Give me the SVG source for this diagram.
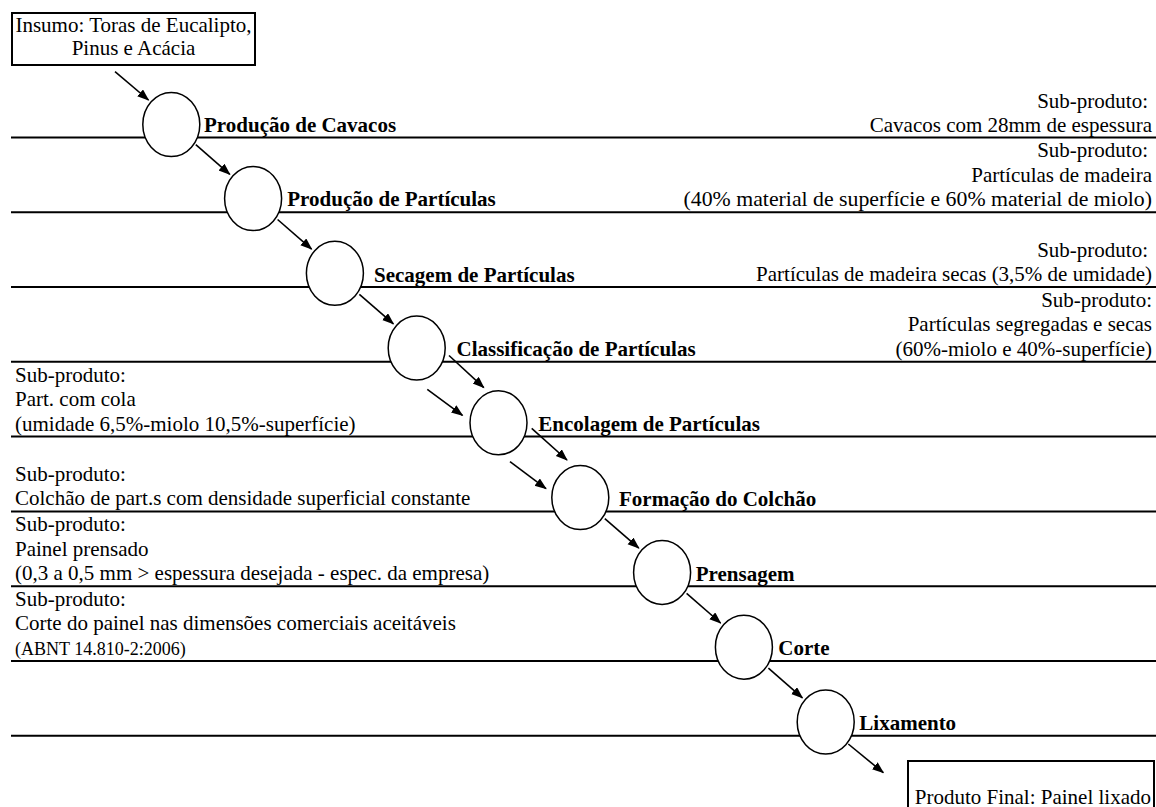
<svg xmlns="http://www.w3.org/2000/svg" width="1156" height="807" viewBox="0 0 1156 807">
<defs>
<marker id="ah" markerUnits="userSpaceOnUse" markerWidth="13" markerHeight="10" refX="11" refY="4.5" orient="auto">
<path d="M0,0 L12,4.5 L0,9 z" fill="#000"/>
</marker>
<style>
.t{font-family:"Liberation Serif","Times New Roman",serif;font-size:21px;fill:#000}
.b{font-family:"Liberation Serif","Times New Roman",serif;font-size:21px;font-weight:bold;fill:#000}
.s{font-family:"Liberation Serif","Times New Roman",serif;font-size:18px;fill:#000}
.r{text-anchor:end}
.hl{stroke:#000;stroke-width:2}
.c{fill:#fff;stroke:#000;stroke-width:1.5}
.a{stroke:#000;stroke-width:1.6;marker-end:url(#ah)}
.box{fill:#fff;stroke:#000;stroke-width:2}
</style>
</defs>
<rect width="1156" height="807" fill="#fff"/>

<g id="separators">
<line class="hl" x1="11" y1="137.5" x2="1156" y2="137.5"/>
<line class="hl" x1="11" y1="212.3" x2="1156" y2="212.3"/>
<line class="hl" x1="11" y1="287.1" x2="1156" y2="287.1"/>
<line class="hl" x1="11" y1="361.8" x2="1156" y2="361.8"/>
<line class="hl" x1="11" y1="436.6" x2="1156" y2="436.6"/>
<line class="hl" x1="11" y1="511.4" x2="1156" y2="511.4"/>
<line class="hl" x1="11" y1="586.2" x2="1156" y2="586.2"/>
<line class="hl" x1="11" y1="661" x2="1156" y2="661"/>
<line class="hl" x1="11" y1="735.7" x2="1156" y2="735.7"/>
</g>

<g id="connectors">
<line class="a" x1="115" y1="71.7" x2="148.5" y2="100"/>
<line class="a" x1="195.8" y1="144.7" x2="229.8" y2="174.3"/>
<line class="a" x1="277.6" y1="219.5" x2="311.6" y2="249.1"/>
<line class="a" x1="359.4" y1="294.3" x2="393.4" y2="323.9"/>
<line class="a" x1="449" y1="355.5" x2="483.8" y2="387.6"/>
<line class="a" x1="427.3" y1="389.3" x2="462.5" y2="415.4"/>
<line class="a" x1="531.7" y1="428.3" x2="567" y2="460"/>
<line class="a" x1="510" y1="461.7" x2="546" y2="488.7"/>
<line class="a" x1="604.8" y1="518.6" x2="638.8" y2="548.2"/>
<line class="a" x1="686.6" y1="593.4" x2="720.6" y2="623"/>
<line class="a" x1="768.4" y1="668.2" x2="802.4" y2="697.8"/>
<line class="a" x1="848.3" y1="744" x2="883.3" y2="772.7"/>
</g>

<g id="insumo">
<rect class="box" x="12" y="13" width="243" height="52"/>
<text class="t" x="133.5" y="32" text-anchor="middle">Insumo: Toras de Eucalipto,</text>
<text class="t" x="133.5" y="55" text-anchor="middle">Pinus e Acácia</text>
</g>

<g id="n1"><ellipse class="c" cx="171.3" cy="124.5" rx="28.5" ry="32"/><text class="b" x="204" y="131.5">Produção de Cavacos</text></g>
<g id="n2"><ellipse class="c" cx="253.1" cy="198.5" rx="28.5" ry="32"/><text class="b" x="287.3" y="206.3">Produção de Partículas</text></g>
<g id="n3"><ellipse class="c" cx="334.9" cy="273.3" rx="28.5" ry="32"/><text class="b" x="374" y="281.5">Secagem de Partículas</text></g>
<g id="n4"><ellipse class="c" cx="416.7" cy="348.1" rx="28.5" ry="32"/><text class="b" x="456.5" y="356">Classificação de Partículas</text></g>
<g id="n5"><ellipse class="c" cx="498.5" cy="422.8" rx="28.5" ry="32"/><text class="b" x="538.3" y="430.7">Encolagem de Partículas</text></g>
<g id="n6"><ellipse class="c" cx="580.3" cy="497.6" rx="28.5" ry="32"/><text class="b" x="619" y="505.5">Formação do Colchão</text></g>
<g id="n7"><ellipse class="c" cx="662.1" cy="572.4" rx="28.5" ry="32"/><text class="b" x="695.7" y="580.5">Prensagem</text></g>
<g id="n8"><ellipse class="c" cx="743.9" cy="647.2" rx="28.5" ry="32"/><text class="b" x="778.3" y="655">Corte</text></g>
<g id="n9"><ellipse class="c" cx="825.7" cy="722" rx="28.5" ry="32"/><text class="b" x="859.3" y="730">Lixamento</text></g>

<g id="sub1">
<text class="t r" x="1148" y="107.5">Sub-produto:</text>
<text class="t r" x="1152" y="131.5">Cavacos com 28mm de espessura</text>
</g>
<g id="sub2">
<text class="t r" x="1148" y="157.3">Sub-produto:</text>
<text class="t r" x="1152" y="181.8">Partículas de madeira</text>
<text class="t r" x="1152" y="206.3" style="font-size:21.8px">(40% material de superfície e 60% material de miolo)</text>
</g>
<g id="sub3">
<text class="t r" x="1148" y="256.6">Sub-produto:</text>
<text class="t r" x="1152" y="281.1">Partículas de madeira secas (3,5% de umidade)</text>
</g>
<g id="sub4">
<text class="t r" x="1152" y="306.8">Sub-produto:</text>
<text class="t r" x="1152" y="331.3">Partículas segregadas e secas</text>
<text class="t r" x="1152" y="355.8">(60%-miolo e 40%-superfície)</text>
</g>
<g id="sub5">
<text class="t" x="15" y="381.6">Sub-produto:</text>
<text class="t" x="15" y="406.1">Part. com cola</text>
<text class="t" x="15" y="430.6">(umidade 6,5%-miolo 10,5%-superfície)</text>
</g>
<g id="sub6">
<text class="t" x="15" y="480.9">Sub-produto:</text>
<text class="t" x="15" y="505.4">Colchão de part.s com densidade superficial constante</text>
</g>
<g id="sub7">
<text class="t" x="15" y="531.2">Sub-produto:</text>
<text class="t" x="15" y="555.7">Painel prensado</text>
<text class="t" x="15" y="580.2">(0,3 a 0,5 mm &gt; espessura desejada - espec. da empresa)</text>
</g>
<g id="sub8">
<text class="t" x="15" y="605.5">Sub-produto:</text>
<text class="t" x="15" y="630">Corte do painel nas dimensões comerciais aceitáveis</text>
<text class="s" x="15" y="654.5">(ABNT 14.810-2:2006)</text>
</g>

<g id="final">
<rect class="box" x="908" y="761" width="246" height="60"/>
<text class="t r" x="1151" y="804">Produto Final: Painel lixado</text>
</g>
</svg>
